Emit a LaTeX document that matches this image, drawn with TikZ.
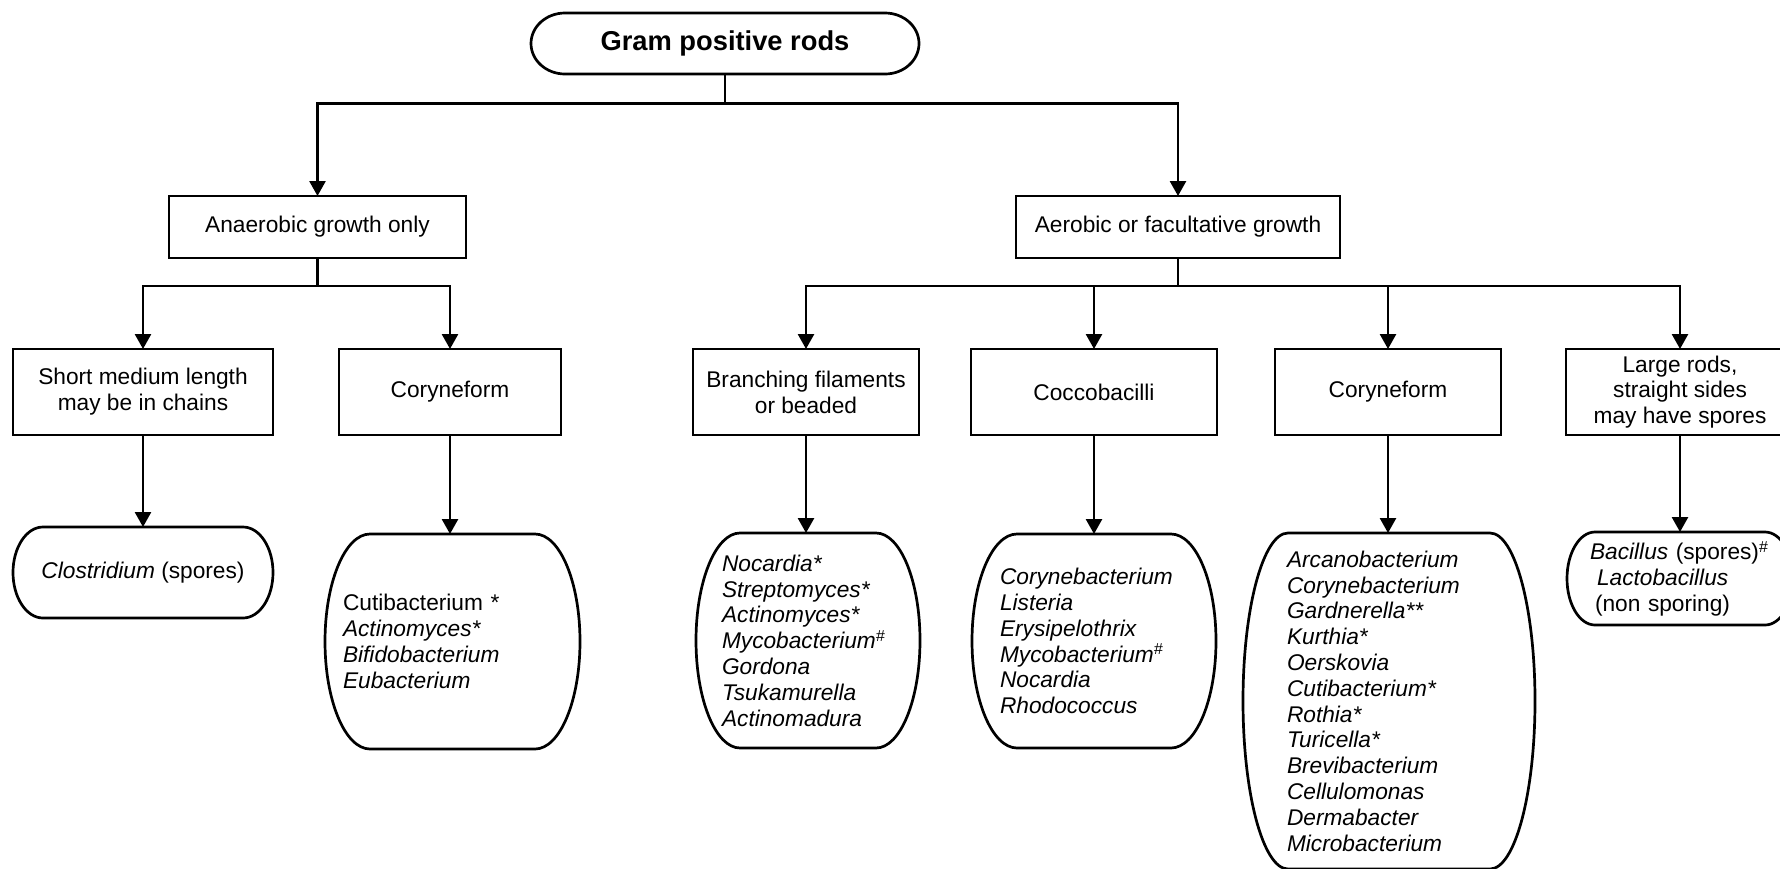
\documentclass[tikz,border=0pt]{standalone}
\usepackage{fontspec}
\setmainfont{Liberation Sans}
\usetikzlibrary{arrows.meta}
\tikzset{
  outline/.style={draw=black, line width=2.7pt},
  txt/.style={font=\fontsize{22.7pt}{25.8pt}\selectfont},
  box/.style={txt, draw=black, line width=2.7pt, inner sep=0pt, outer sep=0pt, align=center, minimum height=86pt},
  leaf/.style={txt, inner ysep=0pt, outer sep=0pt, align=left},
  link/.style={line width=2.7pt, -{Triangle[length=15pt,width=16pt]}},
}
\newcommand\leafoutline[3]{%
  \draw[outline] ([xshift=#2]#1.north west) -- ([xshift=-#2]#1.north east)
    arc[start angle=90, end angle=-90, x radius=#2, y radius=#3]
    -- ([xshift=#2]#1.south west)
    arc[start angle=270, end angle=90, x radius=#2, y radius=#3] -- cycle;}
\begin{document}
\begin{tikzpicture}[x=1pt,y=-1pt]
\useasboundingbox (0,0) rectangle (1780,868);
\clip (0,0) rectangle (1780,868);

% top
\node[outer sep=0pt, inner sep=0pt, minimum width=388pt, minimum height=61pt,
      font=\fontsize{27.3pt}{30pt}\selectfont\bfseries] (T) at (725,43.5) {Gram positive rods};
\leafoutline{T}{34pt}{30.5pt}

% level 2
\node[box, minimum width=297pt, minimum height=62pt] (A) at (317.5,227) {Anaerobic growth only};
\node[box, minimum width=324pt, minimum height=62pt] (B) at (1178,227) {Aerobic or facultative growth};

% level 3
\node[box, minimum width=260pt] (C1) at (143,392) {Short medium length\\may be in chains};
\node[box, minimum width=222pt] (C2) at (450,392) {Coryneform};
\node[box, minimum width=226pt] (C3) at (806,392) {Branching filaments\\or beaded};
\node[box, minimum width=246pt] (C4) at (1094,392) {Coccobacilli};
\node[box, minimum width=226pt] (C5) at (1388,392) {Coryneform};
\node[box, minimum width=228pt] (C6) at (1680,392) {Large rods,\\straight sides\\may have spores};

% leaves
\node[leaf, align=center, inner xsep=0pt, minimum width=260pt, minimum height=91pt] (L1) at (143,572.5)
  {\textit{Clostridium} (spores)};
\leafoutline{L1}{30pt}{45.5pt}

\node[leaf, inner xsep=18pt, text width=219pt, minimum height=215pt] (L2) at (452.5,641.5)
  {Cutibacterium *\\\textit{Actinomyces*}\\\textit{Bifidobacterium}\\\textit{Eubacterium}};
\leafoutline{L2}{45pt}{107.5pt}

\node[leaf, inner xsep=26pt, text width=172pt, minimum height=215pt] (L3) at (808,640.5)
  {\itshape Nocardia*\\Streptomyces*\\Actinomyces*\\Mycobacterium\textsuperscript{\#}\\Gordona\\Tsukamurella\\Actinomadura};
\leafoutline{L3}{44pt}{107.5pt}

\node[leaf, inner xsep=28pt, text width=188pt, minimum height=214pt] (L4) at (1094,641)
  {\itshape Corynebacterium\\Listeria\\Erysipelothrix\\Mycobacterium\textsuperscript{\#}\\Nocardia\\Rhodococcus};
\leafoutline{L4}{45pt}{107pt}

\node[leaf, inner xsep=44pt, text width=204pt, minimum height=336pt] (L5) at (1389,701)
  {\itshape Arcanobacterium\\Corynebacterium\\Gardnerella**\\Kurthia*\\Oerskovia\\Cutibacterium*\\Rothia*\\Turicella*\\Brevibacterium\\Cellulomonas\\Dermabacter\\Microbacterium};
\leafoutline{L5}{45pt}{168pt}

\node[leaf, inner xsep=23pt, text width=180pt, minimum height=93pt] (L6) at (1680,578.5)
  {\textit{Bacillus} (spores)\textsuperscript{\#}\\\hspace*{7pt}\textit{Lactobacillus}\\\hspace*{5pt}(non sporing)};
\leafoutline{L6}{28pt}{46.5pt}

% connectors
\draw[link] (T.south) -- ++(0,29.5) -| (A.north);
\draw[link] (T.south) -- ++(0,29.5) -| (B.north);
\draw[link] (A.south) -- ++(0,28) -| (C1.north);
\draw[link] (A.south) -- ++(0,28) -| (C2.north);
\foreach \c in {C3,C4,C5,C6} \draw[link] (B.south) -- ++(0,28) -| (\c.north);
\draw[link] (C1.south) -- (C1.south |- L1.north);
\draw[link] (C2.south) -- (C2.south |- L2.north);
\draw[link] (C3.south) -- (C3.south |- L3.north);
\draw[link] (C4.south) -- (C4.south |- L4.north);
\draw[link] (C5.south) -- (C5.south |- L5.north);
\draw[link] (C6.south) -- (C6.south |- L6.north);
\end{tikzpicture}
\end{document}
